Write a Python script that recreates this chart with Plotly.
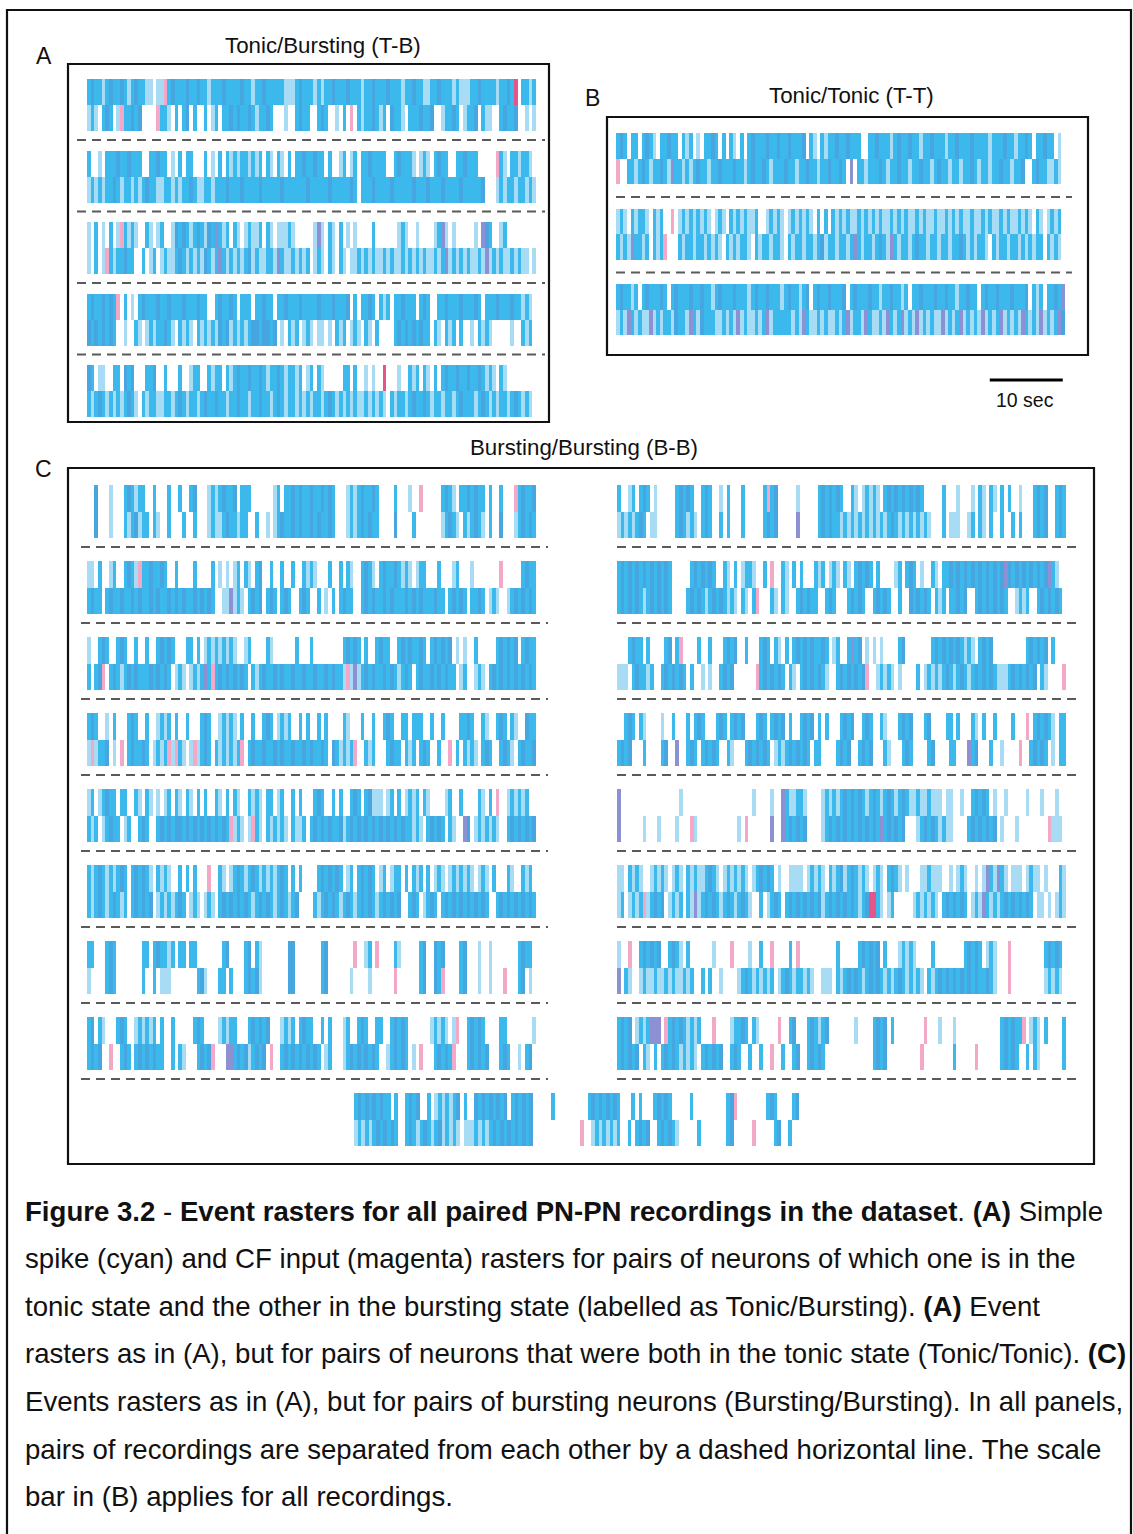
import plotly.graph_objects as go

W, H = 1133, 1534
DT = 0.5          # seconds per raster bin
NB = 123          # bins per recording (61.5 s)
PX_PER_S = 7.3    # horizontal scale (10 s scale bar = 73 px)

# event codes: l light cyan spike, c cyan spike, b dense/overlapping spikes,
# p purple (spike + CF overlap), m magenta CF input, r strong CF input
CODES = ["l", "c", "b", "p", "m", "r"]
COLS = ["#a8dcf4", "#3bb8ec", "#47a5e0", "#8e90d4", "#f4a8c8", "#e4558c"]

# ---------------- Panel A : Tonic/Bursting (5 pairs) ----------------
TB_1 = [("cbcclcbccbclcbcc" "ll llm" "cbcccbccbc" "clcccbcccc" "bcclccbccc" "cclllcbccc"
         "lclccbcccb" "ccclccbccc" "bccclccbcc" "llccbccclc" "lllccbcccc" "lccbc" "r cclc"),
        ("lcl cbc lm" "ccbcb    m" "ccl c cb c" "  c lc ccb" "cbccbclccb" "c   l  cbc"
         "c  cbc  l " "c m clccbc" "lc bccl cc" "cbccb  lcc" "bc lccb cl" "l  cbccb  " "l l")]
TB_2 = [("c  l cccbc" "cbccc  ccb" "cc l c cc " "  c l c cl" "clcclclc c" "l cl c ccb"
         "ccbcc c  l" "c lc ccbcc" "cc  cbcccl" " lcl cbcc " " ccbccc   " "  mcl cclc" "cl "),
        ("lclclccbcl" "cclclcbccl" "lcclclccbc" "llcclcccbc" "ccbccccbcc" "cccbcccccc"
         "bcccccbccc" "ccbc cccbc" "cccbcccccb" "cccbcccbcc" "ccbcccccb " "  lclcclcc" "lcl")]
TB_3 = [("l c l c lm" "clcl  cl l" "c  lbcbclc" "bclbcpclc " "cl lcllc c" "l lllcl   "
         "  lpl cl c" " l l    c " "     lcl  " "l    lcpl " "l     l pb" "c  lc     " "   "),
        ("l c lmclcc" "bcc  c lc " "lcllcbclcl" "clbclcpclc" "lclcblcllc" "clpcllclcl"
         "c lcl cl c" "l llclclcl" "lclcllclcl" "clcllclcpl" "clclcllclp" "lclcllclcl" "l l")]
TB_4 = [("cbccbcbcm " "c l cbcccb" "ccbcccbccc" "bcc  cbccb" "c ccc ccbc" "c ccbcccbc"
         "cccbcccbcc" "cb c ccbc " "clc ccbccc" " cbc  ccbc" "ccbcccbc c" "ccbcccbccl" "cl "),
        ("bcbcbcbc  " "l  cl lclc" "cbcl clcl " "clclclbcbl" "clclcbbcbb" "cb l clc l"
         "cl ll l cl" "c lcl cl c" "    cbcbcb" "cbcc cl cl" "c c  l clc" "l     l  c" "lc ")]
TB_5 = [("bc ll  cc " "bcb   ccb " " c   c  lc" "c  clcc cl" "cbccbccbcl" "ccbclcclc "
         "lc cl     " "cc c  l l " " r   l  cl" "c cl c cbc" "cbccbccbcl" "cl cl     " "   "),
        ("clcbclclcl" "cbcl clccl" "lcclcbclcc" "lcbccbcclc" "cbcclccbcc" "lcbclcclcl"
         "clcclcbclc" "lclcllclcl" "cl clcclcb" "ccbclcclcc" "lcbccclcbc" "lclcclcbcl" "cl")]

# ---------------- Panel B : Tonic/Tonic (3 pairs) ----------------
TT_1 = [("cbc cc cbc" "l ccbcc cl" "c l ccbc c" " cl c cbcc" "cbccbccbcc" "cb cl clcc"
         "bccbccc  c" "cbccclcbcc" "bcclccbccc" "lccbcccbcc" "cclcccbccl" "ccbc ccbcc" " l "),
        ("m  cclcbcl" "ccbclpcclc" "lcbcclccbc" "ccbcclcbcc" "bclcccbccl" "ccbcclccbc"
         "cbc p cclc" "ccbclccbcc" "lccbcclcbc" "clcclccbcl" "cclccbcclc" "cb  cbccll" "cl ")]
TT_2 = [("lcl clccl " "clc  m lcl" "clclcl lcl" " clclcllc " " lclcl lcl" "clcl c c c"
         "lclcllclcl" "clcllclclc" "llclcllcll" "clclcllcll" "clcllclcll" "clcl cl lc" "lc "),
        ("clclpcclc " "clcm   clc" "clcclclcl " "clclccl cl" "cclccl clc" "clcclcblcc"
         "lcclcpclcc" "lcbclpclcc" "lcbcclcclc" "clccbclclc" "cl clcclcc" "lclclcc cl" "cl ")]
TT_3 = [("cbcclc cbc" "ccbc cbccc" "bccbcclcbc" "ccbccclcbc" "cbccclcbcc" "lcb cbccbc"
         "ccb cbcccb" "cclccbcclc" " ccbcccbcc" "bcclccbcc " "cbccbcccbc" "ccb clc cc" "bcp"),
        ("lclpclcllp" "lclcclbccl" "pclbcccllc" "lclplcllcl" "cplccccclc" "lpcllclcll"
         "clcplcclpc" "llclpclcpl" "clplclcllp" "lclcplclcl" "plclcplclc" "lpclclplcl" "cpb")]

# ---------------- Panel C : Bursting/Bursting (17 pairs) ----------------
BB_L1 = [("  b   l   " "cbclcc  c " "  c  c  cb" "   lclcbcc" "b ccc     " " lc ccbcbc"
          "cbccbcbc  " " lclcbccbc" "    c   l " " m     cbc" "l ccbcbcc " "c  c   mcb" "ccb"),
         ("  b   l   " "clcblcc cl" "  c   c  c" "   lcllcbc" "clcc  c  l" " lcbccbcbc"
          "cbcbccbc  " " lclcbcbcc" "    b    c" "       lcb" "cl clcbcl " "c  b   lcb" "cbc")]
BB_L2 = [("ll c  lc  " "cbclmccbcc" "bc  c    c" "    c l l " "lc cl cb  " "c  c  c  c"
          "lcl   c  c" " cl  cbcl " "cbccbclcl " "lcc   c   " "lc   l    " "   m     c" "bcc"),
         ("cbcc cbccb" "ccbcbccbcb" "ccbcbcbccb" "cbcbc  llp" "lcl cbcb c" "bc cbc  cb"
          "c  c l c c" "bcc  cbcbc" "cbcbcccbcb" "cbcccbcc c" "bcbc ccbc " "lcl  lcbcb" "cbc")]
BB_L3 = [("l  cbc  cb" "c  c  c  c" "bcbc   cc " "c lclclclc" "l  lc    c" "l      c  "
          " c        " "cbcbc c  c" "bcc  cbcbc" "cbc cbcbcb" " l l  c   " "  cbcbcb c" "bcc"),
         ("c cbm cbcl" "cbcbcccbcb" "cbc lcl lc" "lcpcmcbcbc" "bcbc clcbc" "cbcbccbccb"
          "ccbccbcbcc" "lmlplcbcbc" "cbcbclcbc " "cbccbcbcbc" "c lc  lcl " "cbcbcbcbcb" "cbc")]
BB_L4 = [("cbc  l c  " " cbc  c  l" "clc c  c  " " cbc  lclc" "l c  c  cb" "c lclc  c "
          "c  c c    " "cl   c  c " " cbc  cc c" "cc  c  c  " "  ccbc  cl" "  cbc cl  " "bcc"),
         ("lmlccb l m" " cbccbc lc" "lcmlmcl lm" "lcbc clclc" "lcm cbccbc" "cbcbccbccb"
          "cbccbc bcl" "clcm  clc " "  cbcc clc" " cbc  c  m" " c clcl cb" "c  cbcl cb" "ccb")]
BB_L5 = [("lc lcbcc c" "c  cl cl l" " lc cl cl " "c c  cl c " "cl  clcl c" "c lc  c c "
          "  cbc  c c" "  cbc cbll" "l lc c lcl" "c cl    lc" "  c    cl " "c m  lclcl" "c  "),
         ("clc lcbcc " "lc  cbc  c" "bcbcbbcbcb" "cbcbcbcbcm" "lcl lmcl c" "lclcl cllc"
          " cbcbcbccb" "lcbcbcbcbc" "bcbcbcbccl" "cl cbcbc c" "l  pb lclc" "lcl  cbcbc" "bcb")]
BB_L6 = [("clcbclclcb" "c cbcbcl c" "lcl  c c c" "   m  cl l" "cbclcbclcl" "clcbc c c "
          "   cbcbcbc" " lc cbcbc " "lc lcc c c" "lc c lcl l" "clclcl lcl" " c   cl  c" "lc "),
         ("clcbclcbcl" "c cbcbcb l" "clclcbc lc" "l lcl cbcb" "cbcbclcbcb" "clcbclcb  "
          "  clcbcbcl" "cbclcbcbcl" "cbcbcb  cb" "c lcbc cbc" "bcbcbcbcbc" "  cbcbcbcb" "cbc")]
BB_L7 = [("cc   cbc  " "     cc cb" "cclc cc cc" "       cb " "   cb cl  " "     bb   "
          "    cb    " "   m  lc m" "    cl    " " cb  bcb  " "  cb   l  " "l       cb" "cc "),
         ("l    cbc  " "     c  c " "lll       " "cbl   cc c" "   cbcbl  " "     bb   "
          "    cb    " "  l    l  " "    m     " " cb  bcm  " "  cb   l  " "l   m   cb" " l ")]
BB_L8 = [("cb cl   cb" "c  lclclc " "c  c     c" "bc    lclc" "c   cbcbcb" "   lclc cb"
          "cc  c c   " "lc  cbc  c" "c  cbcbc  " "    lclcl " "lm  cbcbc " "   cc     " "  l"),
         ("cbcb  m  c" "bc cbcbcbc" "c  c cl   " "cbcbm   pp" "cbcblcbcb " "m  cbcbcbc"
          "bcbc lc   " "lcbcbcbcbc" "  lcbcbc l" " m   cbcbc" "m   cbcbcb" "   cbc  l " "cb ")]

BB_R1 = [("c  lc cbc " "l     cbcb" "c  cbc  l " "c   c     " "cmcb     l" "     cbcbc"
          "bc  cl lcl" "cl cbcbcbc" "bcbc     c" "   l   l c" "l cl c c  " "l   cbcb  " "cbc"),
         ("lclclcbc l" "l     cbcl" "cl cbc  c " "c   c     " "cbcb     p" "     cbcbc"
          "clclclclcl" "clclcbclcl" "clclcl   c" " lll  lc c" "l c  c  c " "c   cbcb  " "cbc")]
BB_R2 = [("cbcbcbcbcb" "cbcbc     " "cbcbcbc  c" "l c lccl  " "c m  cl c " "c   clc lc"
          "l cl cbcbc" " c    lc c" "bc l  cl c" "cbcbcbcbcb" "cbcbcbpbcb" "cbcbcbcbpc" "l  "),
         ("cbcbcbclcb" "cbcbc    c" "bcbclcbcbc" "lcl cl cm " "  cl cl  c" "bcbcc  cbc"
          "   cbcbc  " "cbcbc  c  " "bcbcbc clc" " ccbcb  cb" "cbcbcbc  l" "clc  cbcbc" "bc ")]
BB_R3 = [("   cbcc c " "   cb cm  " "  c  c   c" "bcb  c   c" "bc cl c cb" "cbcbccbc l"
          "c  cpcb l " "l l    cb " "      cbcb" "cbcbclcl c" "bcb       " "  cbcbcb c" "   "),
         ("lll cbcclc" "  cbcbcbc " "c  l l  cb" "cb      mc" "bcbcbc cl " "cbcbcbcl  "
          "cbcbcbcbm " " lclcl l  " "  c lclclc" "bclcbclcbc" "bcbclllcbc" "bcbcb cl  " "  m")]
BB_R4 = [("  cbc cl  " "  l  c   c" " cbc   cbc" " cbcb   cb" "c cbcb c  " "cbcb c c  "
          " cbcb  cbc" "  cl   cbc" "b   cb    " "cc c   cl " "c  c    c " "  m cbcbcl" " cc"),
         ("cbcb   c  " "  cb  p  c" "bc cbcbc  " "cl   cbcbc" "bc lclcbcb" "cbc cc    "
          "cbcb  cbcb" "   cl   cb" "c    cb   " " cc   pcb " "  c  l    " "m  cbcbc l" " cc")]
BB_R5 = [("p         " "       l  " "          " "       l  " "  l  pcllc" "cl    lclc"
          "lcbcbcbclc" "bclcbclcbc" "llcllclll " "ll  l  cbc" "bc l  l   " "  l   l   " "l  "),
         ("p      l  " " l    l   " "ml        " "   l m    " "  p  pcbcb" "cb    lcbc"
          "bcbcbcbcbc" "bcpcbcbcb " "  lcbcbclc" "ll    cbcb" "cbcb l   l" "        ml" "ll ")]
BB_R6 = [("ll clcl  l" "clcl lcl c" "lcllcbcl l" "clclcl lcb" "cbc l  lll" "l lclcl cl"
          "cblcbclcl " "lcl cbcl l" "   llclll " " l lcl  l " "lpclpcl ll" "l lcll l  " " cl"),
         ("lc lclcmlc" "bcb lclc c" "lplcbcbclc" "bclcbcl  c" " lcbc cbcb" "cbcbcblcbc"
          "bcbcbclcbr" "rcl lc    " " lclclcl c" "bcbcbc lcl" "pclclcbcbc" "bcbc ll l " "lcl")]
BB_R7 = [("l  m  cbcb" "cb  cbcl c" "      l   " " m    l  c" "  m    c m" "          "
          "c     cbcb" "cb c   lcl" "cl    c   " "     cbcbc" " lcl   m  " "       cbc" "bc "),
         ("p cl  lcll" "cllclcllcl" "c  c c  l " "   lcbclcl" "clc lcbclc" "clcl  lll "
          "clcbcbclcb" "cbclclcbcl" "clcl clcbc" "bcbcbcbcbc" "cbcl   m  " "       lcl" "cl ")]
BB_R8 = [("cbcb lclcp" "pp mcbcbcl" "clc   m   " " lccbc cl " "    m  cb " "  cbclcb  "
          "     l    " "cbcb c    " "    m   l " "  l       " "     cbcbc" "cm lcl c  " "  c"),
         ("cbcbcb cl " "c cbcbclcl" "cl cbcbcb " " cbc  c  c" "  m  c  cb" "  cbcbc   "
          "          " "cbcb      " "   m      " "  c     m " "     cbcbc" "  c cl    " "  c")]
BB_9 = [("cbcbcbcbcc" " c  cbcb  " "c lclclcb " "c  bcbcbcb" "cb cbcbcb " "    c     "
         "    cbcbcb" "cbc   c c " "  cbcbc   " "  c       " "  cbm     " "   cbc    " "cb "),
        ("lclclcbcbc" "bc  cbclcb" "clcblclcl " "lllclclcbc" "bcbcbcbcb " "          "
         "  m  lclcl" "clc  c cbc" "b  cbcbcl " "    c     " "  cb     m" "     cb  c" "   ")]

PANEL_A = [TB_1, TB_2, TB_3, TB_4, TB_5]
PANEL_B = [TT_1, TT_2, TT_3]
PANEL_CL = [BB_L1, BB_L2, BB_L3, BB_L4, BB_L5, BB_L6, BB_L7, BB_L8]
PANEL_CR = [BB_R1, BB_R2, BB_R3, BB_R4, BB_R5, BB_R6, BB_R7, BB_R8]
PANEL_CB = [BB_9]

CAPTION = [
    "<b>Figure 3.2</b> - <b>Event rasters for all paired PN-PN recordings in the dataset</b>. <b>(A)</b> Simple",
    "spike (cyan) and CF input (magenta) rasters for pairs of neurons of which one is in the",
    "tonic state and the other in the bursting state (labelled as Tonic/Bursting). <b>(A)</b> Event",
    "rasters as in (A), but for pairs of neurons that were both in the tonic state (Tonic/Tonic). <b>(C)</b>",
    "Events rasters as in (A), but for pairs of bursting neurons (Bursting/Bursting). In all panels,",
    "pairs of recordings are separated from each other by a dashed horizontal line. The scale",
    "bar in (B) applies for all recordings.",
]

# ---------------- layout geometry (pixels) ----------------
FONT = "Liberation Sans, Arial, Helvetica, sans-serif"
GEOM = {
    "A":  dict(ax="x",  x0=87,  T0=79,   P=71.5, h=52, d=9,  dx=(77, 545),   nd=4),
    "B":  dict(ax="x2", x0=616, T0=133,  P=75.5, h=51, d=13, dx=(616, 1072), nd=2),
    "CL": dict(ax="x3", x0=87,  T0=485,  P=76,   h=53, d=9,  dx=(81, 548),   nd=8),
    "CR": dict(ax="x4", x0=617, T0=485,  P=76,   h=53, d=9,  dx=(617, 1080), nd=8),
    "CB": dict(ax="x5", x0=354, T0=1093, P=76,   h=53, d=9,  dx=(0, 0),      nd=0),
}
PANELS = {"A": PANEL_A, "B": PANEL_B, "CL": PANEL_CL, "CR": PANEL_CR, "CB": PANEL_CB}


def encode(row):
    vals = []
    for i in range(NB):
        ch = row[i] if i < len(row) else " "
        vals.append(CODES.index(ch) + 1 if ch in CODES else None)
    return vals


colorscale = []
n = len(COLS)
for k, col in enumerate(COLS):
    colorscale += [[k / n, col], [(k + 1) / n, col]]

fig = go.Figure()
shapes = []
layout_axes = {}
for key, pairs in PANELS.items():
    g = GEOM[key]
    z, yedges = [], []
    for k, pair in enumerate(pairs):
        top = g["T0"] + k * g["P"]
        if k > 0:
            z.append([None] * NB)  # blank gap between pairs
        yedges += [top, top + g["h"] / 2, top + g["h"]]
        z.append(encode(pair[0]))
        z.append(encode(pair[1]))
    xedges = [i * DT for i in range(NB + 1)]
    fig.add_trace(go.Heatmap(
        z=z, x=xedges, y=yedges, xaxis=g["ax"], yaxis="y",
        colorscale=colorscale, zmin=0.5, zmax=n + 0.5, showscale=False,
        hoverinfo="skip", zsmooth=False,
    ))
    axname = "xaxis" if g["ax"] == "x" else "xaxis" + g["ax"][1:]
    layout_axes[axname] = dict(
        domain=[g["x0"] / W, (g["x0"] + NB * DT * PX_PER_S) / W],
        range=[0, NB * DT], anchor="y", visible=False, fixedrange=True,
    )
    for k in range(g["nd"]):
        yd = g["T0"] + k * g["P"] + g["h"] + g["d"]
        shapes.append(dict(type="line", xref="paper", yref="y",
                           x0=g["dx"][0] / W, x1=g["dx"][1] / W, y0=yd, y1=yd,
                           line=dict(color="#5a5a5a", width=2, dash="9px,6px")))

# panel boxes
for (bx0, by0, bx1, by1) in [(68, 64, 549, 422), (607, 117, 1088, 355), (68, 468, 1094, 1164)]:
    shapes.append(dict(type="rect", xref="paper", yref="y", x0=bx0 / W, x1=bx1 / W,
                       y0=by0, y1=by1, line=dict(color="#111111", width=2.2)))
# outer frame
shapes.append(dict(type="rect", xref="paper", yref="y", x0=7 / W, x1=1131 / W,
                   y0=10, y1=1545, line=dict(color="#111111", width=2.2)))
# 10 s scale bar in panel B time units
shapes.append(dict(type="line", xref="x2", yref="y", x0=51.2, x1=51.2 + 10, y0=380, y1=380,
                   line=dict(color="#000000", width=3)))

ann = []
def txt(x, y, s, size, anchor="center"):
    ann.append(dict(x=x / W, y=y, xref="paper", yref="y", text=s, showarrow=False,
                    xanchor=anchor, yanchor="middle",
                    font=dict(family=FONT, size=size, color="#111111")))

txt(44, 56, "A", 23)
txt(323, 45, "Tonic/Bursting (T-B)", 22.3)
txt(592, 98, "B", 23)
txt(851, 95, "Tonic/Tonic (T-T)", 22.3)
txt(1025, 400, "10 sec", 19.5)
txt(43, 469, "C", 23)
txt(584, 447, "Bursting/Bursting (B-B)", 22.3)
for i, line in enumerate(CAPTION):
    txt(23, 1211 + i * 47.6, line, 27.6, anchor="left")

fig.update_layout(
    width=W, height=H, margin=dict(l=0, r=0, t=0, b=0),
    paper_bgcolor="white", plot_bgcolor="rgba(0,0,0,0)",
    yaxis=dict(domain=[0, 1], range=[H, 0], visible=False, fixedrange=True),
    shapes=shapes, annotations=ann, showlegend=False,
    **layout_axes,
)
fig.write_html("out.html", config={"displayModeBar": False},
               post_script="document.body.style.margin='0px';document.body.style.overflow='hidden';")
